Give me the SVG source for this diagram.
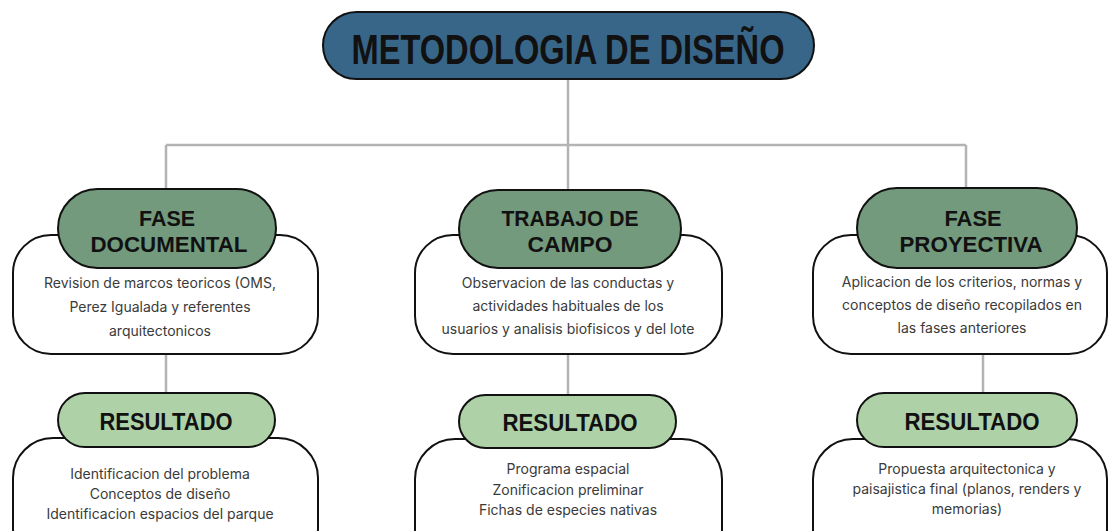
<svg xmlns="http://www.w3.org/2000/svg" width="1109" height="531" viewBox="0 0 1109 531">
<style>
.box{fill:#ffffff;stroke:#111111;stroke-width:2}
.title{fill:#386689;stroke:#111111;stroke-width:2}
.phase{fill:#739a7c;stroke:#111111;stroke-width:2}
.res{fill:#aed1a7;stroke:#111111;stroke-width:2}
.conn{fill:none;stroke:#b3b3b3;stroke-width:2.5}
.h{font-family:"Liberation Sans",Arial,sans-serif;font-weight:bold;fill:#111111;text-anchor:middle}
.p{font-size:22px}
.b{font-family:Inter,"Liberation Sans",sans-serif;font-size:14px;fill:#3a3a3a;text-anchor:middle}
</style>
<rect width="1109" height="531" fill="#ffffff"/>
<g id="connectors">
<path class="conn" d="M568 79 V145 M166 145 H966 M166 145 V190 M568 145 V190 M966 145 V189"/>
<path class="conn" d="M166 354 V394 M568 354 V395 M983 354 V394"/>
</g>
<g id="title">
<rect class="title" x="323" y="12" width="491" height="67" rx="33.5"/>
<text class="h" x="568" y="64" font-size="43" textLength="433" lengthAdjust="spacingAndGlyphs">METODOLOGIA DE DISEÑO</text>
</g>
<g id="fase-documental">
<rect class="box" x="13" y="235" width="305" height="119" rx="38"/>
<rect class="phase" x="58" y="189" width="218" height="79" rx="39.5"/>
<text class="h p" x="167" y="226" textLength="56" lengthAdjust="spacingAndGlyphs">FASE</text>
<text class="h p" x="169" y="252" textLength="157" lengthAdjust="spacingAndGlyphs">DOCUMENTAL</text>
<text class="b" x="160" y="288">Revision de marcos teoricos (OMS,</text>
<text class="b" x="160" y="312">Perez Igualada y referentes</text>
<text class="b" x="160" y="336">arquitectonicos</text>
</g>
<g id="trabajo-campo">
<rect class="box" x="415" y="235" width="307" height="119" rx="38"/>
<rect class="phase" x="459" y="190" width="222" height="78" rx="39"/>
<text class="h p" x="570" y="226" textLength="137" lengthAdjust="spacingAndGlyphs">TRABAJO DE</text>
<text class="h p" x="570" y="252" textLength="85" lengthAdjust="spacingAndGlyphs">CAMPO</text>
<text class="b" x="568" y="288">Observacion de las conductas y</text>
<text class="b" x="568" y="311">actividades habituales de los</text>
<text class="b" x="568" y="334">usuarios y analisis biofisicos y del lote</text>
</g>
<g id="fase-proyectiva">
<rect class="box" x="813" y="235" width="294" height="119" rx="38"/>
<rect class="phase" x="857" y="188" width="220" height="80" rx="40"/>
<text class="h p" x="973" y="226" textLength="57" lengthAdjust="spacingAndGlyphs">FASE</text>
<text class="h p" x="971" y="252" textLength="143" lengthAdjust="spacingAndGlyphs">PROYECTIVA</text>
<text class="b" x="962" y="287">Aplicacion de los criterios, normas y</text>
<text class="b" x="962" y="310">conceptos de diseño recopilados en</text>
<text class="b" x="962" y="333">las fases anteriores</text>
</g>
<g id="resultado-1">
<rect class="box" x="13" y="438" width="305" height="130" rx="40"/>
<rect class="res" x="58" y="393" width="217" height="54" rx="27"/>
<text class="h" x="166" y="430" font-size="24" textLength="133" lengthAdjust="spacingAndGlyphs">RESULTADO</text>
<text class="b" x="160" y="479">Identificacion del problema</text>
<text class="b" x="160" y="499">Conceptos de diseño</text>
<text class="b" x="160" y="519">Identificacion espacios del parque</text>
</g>
<g id="resultado-2">
<rect class="box" x="415" y="439" width="307" height="130" rx="40"/>
<rect class="res" x="459" y="395" width="217" height="53" rx="26.5"/>
<text class="h" x="570" y="431" font-size="24" textLength="135" lengthAdjust="spacingAndGlyphs">RESULTADO</text>
<text class="b" x="568" y="474">Programa espacial</text>
<text class="b" x="568" y="495">Zonificacion preliminar</text>
<text class="b" x="568" y="515">Fichas de especies nativas</text>
</g>
<g id="resultado-3">
<rect class="box" x="813" y="439" width="294" height="130" rx="40"/>
<rect class="res" x="857" y="393" width="220" height="54" rx="27"/>
<text class="h" x="972" y="430" font-size="24" textLength="135" lengthAdjust="spacingAndGlyphs">RESULTADO</text>
<text class="b" x="967" y="474">Propuesta arquitectonica y</text>
<text class="b" x="967" y="494">paisajistica final (planos, renders y</text>
<text class="b" x="967" y="514">memorias)</text>
</g>
</svg>
